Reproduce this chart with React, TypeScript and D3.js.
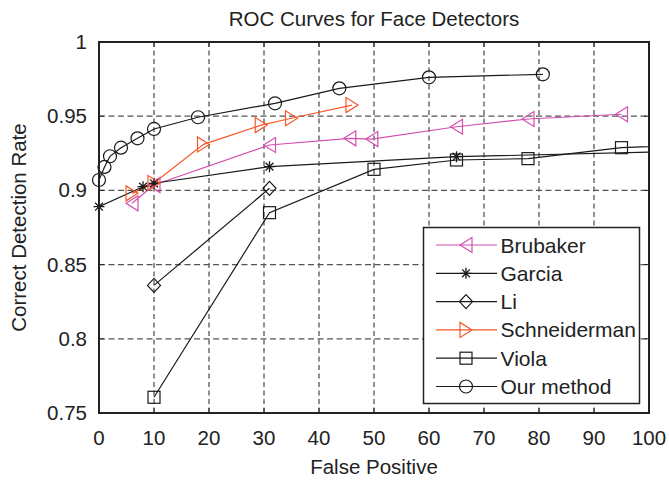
import React from "react";
import * as d3 from "d3";

const title = "ROC Curves for Face Detectors";
const xLabel = "False Positive";
const yLabel = "Correct Detection Rate";
const xTicks = [0, 10, 20, 30, 40, 50, 60, 70, 80, 90, 100];
const yTicks = [0.75, 0.8, 0.85, 0.9, 0.95, 1];
const yTickLabels = ["0.75", "0.8", "0.85", "0.9", "0.95", "1"];

const brubakerX = [6, 10, 31, 45.6, 49.6, 65, 78, 95];
const brubakerY = [0.8913, 0.9036, 0.9306, 0.9351, 0.9346, 0.9429, 0.9481, 0.9513];
const garciaX = [0, 8, 10, 31, 65, 110];
const garciaY = [0.889, 0.9025, 0.9048, 0.916, 0.9227, 0.9266];
const liX = [10, 31];
const liY = [0.836, 0.9014];
const schneidermanX = [6, 10, 19, 29.5, 35, 46];
const schneidermanY = [0.898, 0.905, 0.931, 0.944, 0.9486, 0.9575];
const violaX = [10, 31, 50, 65, 78, 95, 110];
const violaY = [0.7606, 0.885, 0.9142, 0.9205, 0.9214, 0.9288, 0.931];
const ourX = [0, 1, 2, 4, 7, 10, 18, 32, 43.7, 60, 80.7];
const ourY = [0.907, 0.9158, 0.923, 0.9288, 0.9351, 0.9414, 0.9493, 0.9587, 0.9688, 0.9762, 0.9782];

type Marker = "left" | "star" | "diamond" | "right" | "square" | "circle";
const seriesNames = ["Brubaker", "Garcia", "Li", "Schneiderman", "Viola", "Our method"];
const seriesColors = ["#d24fae", "#1a1a1a", "#1a1a1a", "#f5592a", "#1a1a1a", "#1a1a1a"];
const seriesMarkers: Marker[] = ["left", "star", "diamond", "right", "square", "circle"];
const seriesXs = [brubakerX, garciaX, liX, schneidermanX, violaX, ourX];
const seriesYs = [brubakerY, garciaY, liY, schneidermanY, violaY, ourY];

const W = 669, H = 480;
const L = 99, R = 649, T = 42, B = 413;
const FONT = "'Liberation Sans', Arial, Helvetica, sans-serif";

function MarkerShape({ m, x, y, color }: { m: Marker; x: number; y: number; color: string }) {
  const sw = 1.2;
  if (m === "circle") return <circle cx={x} cy={y} r={6.5} fill="none" stroke={color} strokeWidth={sw} />;
  if (m === "square") return <rect x={x - 6} y={y - 6} width={12} height={12} fill="none" stroke={color} strokeWidth={sw} />;
  if (m === "diamond")
    return <path d={`M${x},${y - 7}L${x + 6.5},${y}L${x},${y + 7}L${x - 6.5},${y}Z`} fill="none" stroke={color} strokeWidth={sw} />;
  if (m === "left")
    return <path d={`M${x - 6},${y}L${x + 6},${y - 7.5}L${x + 6},${y + 7.5}Z`} fill="none" stroke={color} strokeWidth={sw} />;
  if (m === "right")
    return <path d={`M${x + 6},${y}L${x - 6},${y - 7.5}L${x - 6},${y + 7.5}Z`} fill="none" stroke={color} strokeWidth={sw} />;
  const s = 5.5, d = 3.9;
  return (
    <path
      d={`M${x - s},${y}L${x + s},${y}M${x},${y - s}L${x},${y + s}M${x - d},${y - d}L${x + d},${y + d}M${x - d},${y + d}L${x + d},${y - d}`}
      stroke={color}
      strokeWidth={1.3}
      fill="none"
    />
  );
}

export default function App() {
  const x = d3.scaleLinear().domain([0, 100]).range([L, R]);
  const y = d3.scaleLinear().domain([0.75, 1]).range([B, T]);
  const line = d3
    .line<[number, number]>()
    .x((d) => x(d[0]))
    .y((d) => y(d[1]));

  const legX = 423.5, legY = 227.5, legW = 216, legH = 176;
  const rowY0 = 245, rowStep = 28.3;

  return (
    <svg width={W} height={H} style={{ position: "absolute", left: 0, top: 0, background: "#fff" }} fontFamily={FONT}>
      <defs>
        <clipPath id="plotclip">
          <rect x={L} y={T} width={R - L} height={B - T} />
        </clipPath>
      </defs>
      <rect x={0} y={0} width={W} height={H} fill="#fff" />
      {/* grid */}
      {xTicks.slice(1, -1).map((t) => (
        <line key={"gx" + t} x1={x(t)} x2={x(t)} y1={T} y2={B} stroke="#222" strokeWidth={1} strokeDasharray="5,3.5" />
      ))}
      {yTicks.slice(1, -1).map((t) => (
        <line key={"gy" + t} x1={L} x2={R} y1={y(t)} y2={y(t)} stroke="#555" strokeWidth={1.3} strokeDasharray="6,3.5" />
      ))}
      {/* ticks inward */}
      {xTicks.map((t) => (
        <g key={"tx" + t}>
          <line x1={x(t)} x2={x(t)} y1={B} y2={B - 5} stroke="#222" strokeWidth={1} />
          <line x1={x(t)} x2={x(t)} y1={T} y2={T + 5} stroke="#222" strokeWidth={1} />
          <text x={x(t)} y={445} fontSize={20.5} textAnchor="middle" fill="#222">
            {t}
          </text>
        </g>
      ))}
      {yTicks.map((t, i) => (
        <g key={"ty" + t}>
          <line x1={L} x2={L + 5} y1={y(t)} y2={y(t)} stroke="#222" strokeWidth={1} />
          <line x1={R} x2={R - 5} y1={y(t)} y2={y(t)} stroke="#222" strokeWidth={1} />
          <text x={87} y={y(t) + 7} fontSize={20.5} textAnchor="end" fill="#222">
            {yTickLabels[i]}
          </text>
        </g>
      ))}
      {/* series lines */}
      <g clipPath="url(#plotclip)">
        {seriesNames.map((n, i) => {
          const pts = seriesXs[i].map((v, j) => [v, seriesYs[i][j]] as [number, number]);
          return <path key={"l" + n} d={line(pts) || ""} fill="none" stroke={seriesColors[i]} strokeWidth={1.2} />;
        })}
      </g>
      {/* markers */}
      {seriesNames.map((n, i) =>
        seriesXs[i].map((v, j) =>
          v <= 100 ? <MarkerShape key={n + j} m={seriesMarkers[i]} x={x(v)} y={y(seriesYs[i][j])} color={seriesColors[i]} /> : null
        )
      )}
      {/* box */}
      <rect x={L} y={T} width={R - L} height={B - T} fill="none" stroke="#222" strokeWidth={2} />
      {/* legend */}
      <rect x={legX} y={legY} width={legW} height={legH} fill="#fff" stroke="#222" strokeWidth={1.5} />
      {seriesNames.map((n, i) => {
        const ry = rowY0 + i * rowStep;
        return (
          <g key={"lg" + n}>
            <line x1={436} x2={497} y1={ry} y2={ry} stroke={seriesColors[i]} strokeWidth={1.2} />
            <MarkerShape m={seriesMarkers[i]} x={466} y={ry} color={seriesColors[i]} />
            <text x={500.5} y={ry + 7.5} fontSize={21} fill="#222">
              {n}
            </text>
          </g>
        );
      })}
      {/* labels */}
      <text x={(L + R) / 2} y={26} fontSize={20.5} textAnchor="middle" fill="#222">
        {title}
      </text>
      <text x={(L + R) / 2} y={474} fontSize={20.5} textAnchor="middle" fill="#222">
        {xLabel}
      </text>
      <text transform={`translate(25.5,${(T + B) / 2}) rotate(-90)`} fontSize={20.5} textAnchor="middle" fill="#222">
        {yLabel}
      </text>
    </svg>
  );
}
